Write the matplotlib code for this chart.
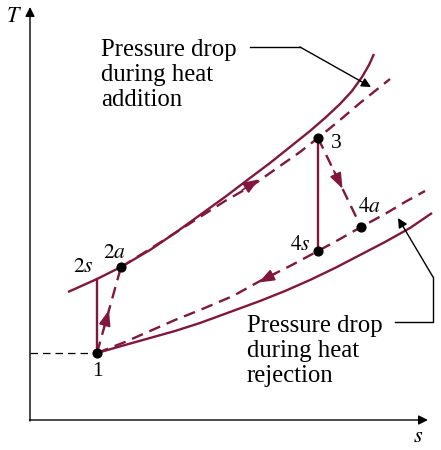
import matplotlib
matplotlib.use("Agg")
import matplotlib.pyplot as plt
import numpy as np

plt.rcParams['font.family'] = ['Liberation Serif', 'DejaVu Serif']
plt.rcParams['mathtext.fontset'] = 'stix'

# Diagram data (figure-pixel coordinate units, y grows downward)
state_names = ['1', '2s', '2a', '3', '4s', '4a']
state_s = [97, 97, 121, 318, 318, 361]
state_T = [353, 279, 267, 138, 251, 227]

# High-pressure line (ideal, solid)
hp_s = [68, 97, 121, 150, 175, 200, 225, 250, 270, 290, 310, 325, 340, 352, 362, 369, 374]
hp_T = [292, 279, 267, 250, 233, 215, 197, 178, 163, 147, 131, 118, 104, 91, 77, 65, 54]
# High-pressure line with pressure drop (dashed)
hpd_s = [121, 150, 175, 200, 225, 253, 280, 300, 318, 340, 360, 390]
hpd_T = [267, 249, 233, 217, 201, 185, 166, 152, 138, 120, 103, 79]
# Low-pressure line (ideal, solid)
lp_s = [97, 125, 150, 175, 200, 230, 260, 285, 310, 335, 360, 385, 410, 432]
lp_T = [353, 345, 338, 331, 323, 312, 301, 291, 280, 268, 255, 242, 228, 213]
# Low-pressure line with pressure drop (dashed)
lpd_s = [97, 125, 150, 175, 200, 233, 260, 290, 318, 340, 361, 385, 405, 425]
lpd_T = [353, 342, 331, 320, 310, 296, 281, 266, 251, 239, 227, 214, 202, 191]

C = '#80173c'

fig = plt.figure(figsize=(4.41, 4.5), dpi=100)
ax = fig.add_axes([0, 0, 1, 1])
ax.set_xlim(0, 441)
ax.set_ylim(450, 0)
ax.axis('off')

# axes arrows
ax.annotate('', xy=(30, 7), xytext=(30, 421),
            arrowprops=dict(arrowstyle='-|>', color='black', lw=1.0, mutation_scale=14, shrinkA=0, shrinkB=0))
ax.annotate('', xy=(428, 420), xytext=(29.5, 420),
            arrowprops=dict(arrowstyle='-|>', color='black', lw=1.0, mutation_scale=14, shrinkA=0, shrinkB=0))
ax.text(14, 18, '$T$', fontsize=16, ha='center', va='center')
ax.text(418, 437, '$s$', fontsize=16, ha='center', va='center')

# reference dashed line to point 1
ax.plot([30, state_s[0]], [state_T[0], state_T[0]], color='black', lw=0.9, dashes=(6, 4))

# curves
ax.plot(hp_s, hp_T, color=C, lw=1.7, solid_capstyle='butt', solid_joinstyle='round')
ax.plot(lp_s, lp_T, color=C, lw=1.7, solid_capstyle='butt', solid_joinstyle='round')
ax.plot(hpd_s, hpd_T, color=C, lw=1.7, dashes=(5, 3))
ax.plot(lpd_s, lpd_T, color=C, lw=1.7, dashes=(5, 3))

S = dict(zip(state_names, zip(state_s, state_T)))
# isentropic (solid) lines
ax.plot([S['1'][0], S['2s'][0]], [S['1'][1], S['2s'][1]], color=C, lw=1.7)
ax.plot([S['3'][0], S['4s'][0]], [S['3'][1], S['4s'][1]], color=C, lw=1.7)
# actual (dashed) lines
ax.plot([S['1'][0], S['2a'][0]], [S['1'][1], S['2a'][1]], color=C, lw=1.7, dashes=(5, 3))
ax.plot([S['3'][0], S['4a'][0]], [S['3'][1], S['4a'][1]], color=C, lw=1.7, dashes=(5, 3))

def mid_arrow(p0, p1, frac):
    p0 = np.array(p0, float); p1 = np.array(p1, float)
    d = (p1 - p0) / np.hypot(*(p1 - p0))
    tip = p0 + frac * (p1 - p0)
    ax.annotate('', xy=tip, xytext=tip - d * 20,
                arrowprops=dict(arrowstyle='-|>,head_length=0.8,head_width=0.3', color=C, lw=1.2,
                                mutation_scale=12, shrinkA=0, shrinkB=0))

mid_arrow(S['1'], S['2a'], 0.50)
mid_arrow((225, 201), (280, 166), 0.62)
mid_arrow(S['3'], S['4a'], 0.57)
mid_arrow((290, 266), (233, 296), 0.55)

# state points
ax.scatter([S[k][0] for k in ['1', '2a', '3', '4s', '4a']],
           [S[k][1] for k in ['1', '2a', '3', '4s', '4a']],
           s=40, color='black', zorder=5)

fs = 15.5
ax.text(97, 371, '1', fontsize=fs, ha='center', va='center')
ax.text(83, 268, r'$\mathrm{2}s$', fontsize=fs, ha='center', va='center')
ax.text(114, 253, r'$\mathrm{2}a$', fontsize=fs, ha='center', va='center')
ax.text(336, 143, '3', fontsize=fs, ha='center', va='center')
ax.text(300, 245, r'$\mathrm{4}s$', fontsize=fs, ha='center', va='center')
ax.text(369, 208, r'$\mathrm{4}a$', fontsize=fs, ha='center', va='center')

tfs = 17.8
ax.text(101, 75, 'Pressure drop\nduring heat\naddition', fontsize=tfs, ha='left', va='center',
        linespacing=1.2)
ax.text(247, 351, 'Pressure drop\nduring heat\nrejection', fontsize=tfs, ha='left', va='center',
        linespacing=1.2)

# leader arrows
ax.plot([250, 300], [47, 47], color='black', lw=1.0)
ax.annotate('', xy=(371, 87), xytext=(300, 47),
            arrowprops=dict(arrowstyle='-|>', color='black', lw=1.0, mutation_scale=14, shrinkA=0, shrinkB=0))
ax.plot([395, 433, 433], [322, 322, 277], color='black', lw=1.0)
ax.annotate('', xy=(398, 218), xytext=(433, 277),
            arrowprops=dict(arrowstyle='-|>', color='black', lw=1.0, mutation_scale=14, shrinkA=0, shrinkB=0))

fig.savefig('out.png', dpi=100)
